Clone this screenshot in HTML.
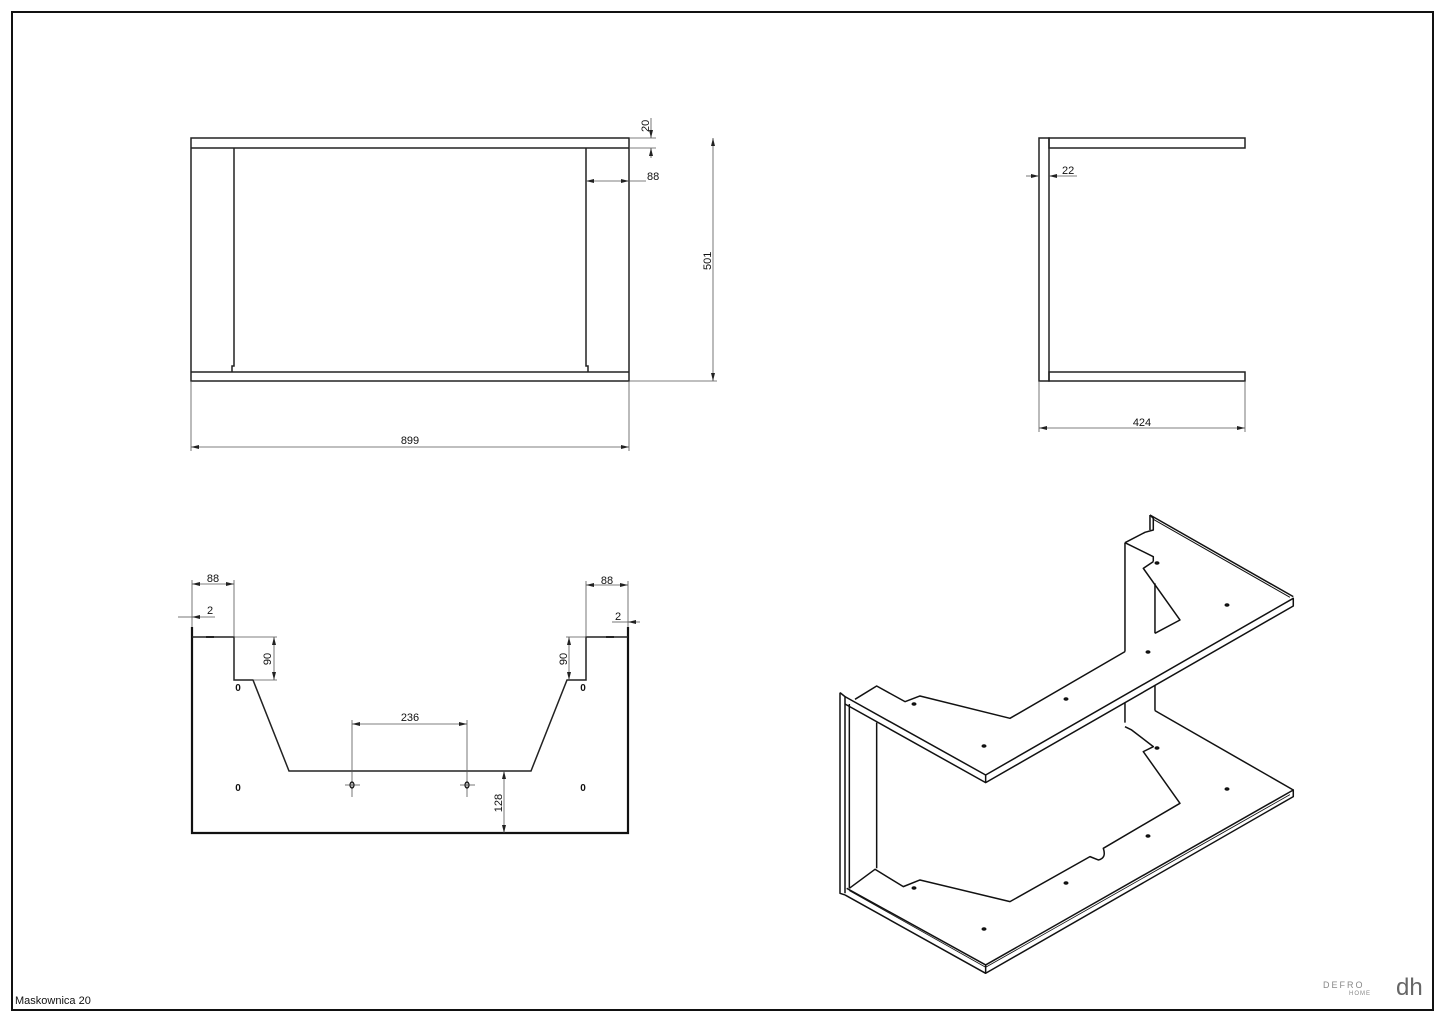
<!DOCTYPE html>
<html><head><meta charset="utf-8"><style>
html,body{margin:0;padding:0;background:#fff;}
svg{display:block;}
text{font-family:"Liberation Sans","DejaVu Sans",sans-serif;font-size:11px;fill:#111;}
</style></head><body>
<svg width="1445" height="1022" viewBox="0 0 1445 1022" xmlns="http://www.w3.org/2000/svg">
<defs>
<marker id="a" markerWidth="8" markerHeight="6" refX="8" refY="3" orient="auto-start-reverse" markerUnits="userSpaceOnUse"><path d="M0,1 L8,3 L0,5 z" fill="#222"/></marker>
</defs>
<rect x="12" y="12" width="1421" height="998" fill="none" stroke="#111" stroke-width="2"/>

<!-- Top-left view -->
<g fill="none" stroke="#222" stroke-width="1.5">
<rect x="191" y="138" width="438" height="243"/>
<line x1="191" y1="148" x2="629" y2="148"/>
<line x1="191" y1="372" x2="629" y2="372"/>
<path d="M234,148 V366 H232 V372"/>
<path d="M586,148 V366 H588 V372"/>
</g>
<g fill="none" stroke="#555" stroke-width="0.8">
<line x1="629" y1="138" x2="656" y2="138"/><line x1="629" y1="148" x2="656" y2="148"/>
<line x1="651" y1="118" x2="651" y2="138" marker-end="url(#a)"/>
<line x1="651" y1="158" x2="651" y2="148" marker-end="url(#a)"/>
<line x1="586" y1="181" x2="629" y2="181" marker-start="url(#a)" marker-end="url(#a)"/>
<line x1="629" y1="181" x2="646" y2="181"/>
<line x1="629" y1="381" x2="717" y2="381"/>
<line x1="713" y1="138" x2="713" y2="381" marker-start="url(#a)" marker-end="url(#a)"/>
<line x1="191" y1="381" x2="191" y2="451"/><line x1="629" y1="381" x2="629" y2="451"/>
<line x1="191" y1="447" x2="629" y2="447" marker-start="url(#a)" marker-end="url(#a)"/>
</g>
<text x="649" y="132" transform="rotate(-90 649 132)" text-anchor="start">20</text>
<text x="647" y="180">88</text>
<text x="711" y="270" transform="rotate(-90 711 270)">501</text>
<text x="410" y="444" text-anchor="middle">899</text>

<!-- Top-right view -->
<g fill="none" stroke="#222" stroke-width="1.5">
<rect x="1039" y="138" width="10" height="243"/>
<rect x="1049" y="138" width="196" height="10"/>
<rect x="1049" y="372" width="196" height="9"/>
</g>
<g fill="none" stroke="#555" stroke-width="0.8">
<line x1="1026" y1="176" x2="1039" y2="176" marker-end="url(#a)"/>
<line x1="1077" y1="176" x2="1049" y2="176" marker-end="url(#a)"/>
<line x1="1039" y1="381" x2="1039" y2="432"/><line x1="1245" y1="381" x2="1245" y2="432"/>
<line x1="1039" y1="428" x2="1245" y2="428" marker-start="url(#a)" marker-end="url(#a)"/>
</g>
<text x="1062" y="174">22</text>
<text x="1142" y="426" text-anchor="middle">424</text>

<!-- Bottom-left view -->
<g fill="none" stroke="#111" stroke-width="2.2">
<path d="M192,627 V833 H628 V627"/>
</g>
<g fill="none" stroke="#222" stroke-width="1.5">
<path d="M192,637 H234 V680 H253 L289,771 H531 L567,680 H586 V637 H628"/>
</g>
<g fill="#222"><rect x="206" y="636" width="8" height="2"/><rect x="606" y="636" width="8" height="2"/></g>
<g fill="none" stroke="#555" stroke-width="0.8">
<line x1="192" y1="584" x2="234" y2="584" marker-start="url(#a)" marker-end="url(#a)"/>
<line x1="192" y1="580" x2="192" y2="627"/><line x1="234" y1="580" x2="234" y2="637"/>
<line x1="178" y1="617" x2="192" y2="617"/><line x1="215" y1="617" x2="192" y2="617" marker-end="url(#a)"/>
<line x1="586" y1="585" x2="628" y2="585" marker-start="url(#a)" marker-end="url(#a)"/>
<line x1="586" y1="581" x2="586" y2="637"/><line x1="628" y1="581" x2="628" y2="627"/>
<line x1="640" y1="622" x2="628" y2="622" marker-end="url(#a)"/><line x1="612" y1="622" x2="628" y2="622"/>
<line x1="234" y1="637" x2="277" y2="637"/><line x1="254" y1="680" x2="277" y2="680"/>
<line x1="274" y1="637" x2="274" y2="680" marker-start="url(#a)" marker-end="url(#a)"/>
<line x1="566" y1="637" x2="586" y2="637"/>
<line x1="569" y1="637" x2="569" y2="680" marker-start="url(#a)" marker-end="url(#a)"/>
<line x1="352" y1="724" x2="467" y2="724" marker-start="url(#a)" marker-end="url(#a)"/>
<line x1="352" y1="720" x2="352" y2="797"/><line x1="467" y1="720" x2="467" y2="797"/>
<line x1="345" y1="785" x2="360" y2="785"/><line x1="460" y1="785" x2="475" y2="785"/>
<line x1="504" y1="771" x2="504" y2="833" marker-start="url(#a)" marker-end="url(#a)"/>
</g>
<g fill="none" stroke="#111" stroke-width="1.2">
<ellipse cx="352" cy="785" rx="2" ry="3"/><ellipse cx="467" cy="785" rx="2" ry="3"/>
</g>
<text x="213" y="582" text-anchor="middle">88</text>
<text x="210" y="614" text-anchor="middle">2</text>
<text x="607" y="584" text-anchor="middle">88</text>
<text x="618" y="620" text-anchor="middle">2</text>
<text x="271" y="659" transform="rotate(-90 271 659)" text-anchor="middle">90</text>
<text x="567" y="659" transform="rotate(-90 567 659)" text-anchor="middle">90</text>
<text x="410" y="721" text-anchor="middle">236</text>
<text x="502" y="803" transform="rotate(-90 502 803)" text-anchor="middle">128</text>
<text x="238" y="691" text-anchor="middle" style="font-size:10px;font-weight:bold">0</text>
<text x="583" y="691" text-anchor="middle" style="font-size:10px;font-weight:bold">0</text>
<text x="238" y="791" text-anchor="middle" style="font-size:10px;font-weight:bold">0</text>
<text x="583" y="791" text-anchor="middle" style="font-size:10px;font-weight:bold">0</text>

<!-- Isometric view -->
<g transform="translate(820,500) scale(0.3333)" fill="none" stroke="#111" stroke-width="4.5" stroke-linejoin="round">
<path d="M60,578 L60,1180 L75,1185"/>
<path d="M60,578 L75,590 L75,1180"/>
<line x1="88" y1="612" x2="88" y2="1165"/>
<line x1="170" y1="668" x2="170" y2="1105"/>
<line x1="915" y1="128" x2="915" y2="455"/>
<line x1="915" y1="608" x2="915" y2="668"/>
<line x1="1005" y1="250" x2="1005" y2="400"/>
<line x1="1005" y1="556" x2="1005" y2="632"/>
<path d="M990,45 L990,90"/>
<path d="M75,590 L497,825 L1420,295 L1420,318 L497,848 L75,612"/>
<line x1="497" y1="825" x2="497" y2="848"/>
<path d="M990,45 L1420,290"/>
<path d="M1000,58 L1410,292" stroke-width="3"/>
<path d="M990,45 L1000,55 L1000,90 L975,97 L915,128"/>
<path d="M105,598 L170,558 L255,605 L300,588 L570,655 L915,455"/>
<path d="M1005,400 L1080,360 L970,205 L1000,185"/>
<path d="M915,128 L1000,170 L1000,185"/>
<path d="M80,1165 L497,1395 L1420,870 L1420,890 L497,1420 L75,1185"/>
<line x1="497" y1="1395" x2="497" y2="1420"/>
<path d="M88,1172 L497,1402 L1410,884" stroke-width="2.5"/>
<path d="M1005,632 L1420,870"/>
<path d="M88,1165 L165,1108 L250,1160 L300,1140 L570,1205 L810,1070 L835,1080 Q860,1075 850,1045 L1080,910 L970,755 L1000,740 L935,690 L915,680"/>
</g>
<g fill="#111">
<ellipse cx="914" cy="704" rx="2.5" ry="1.8"/><ellipse cx="1066" cy="699" rx="2.5" ry="1.8"/>
<ellipse cx="1148" cy="652" rx="2.5" ry="1.8"/><ellipse cx="1227" cy="605" rx="2.5" ry="1.8"/>
<ellipse cx="1157" cy="563" rx="2.5" ry="1.8"/><ellipse cx="984" cy="746" rx="2.5" ry="1.8"/>
<ellipse cx="914" cy="888" rx="2.5" ry="1.8"/><ellipse cx="1066" cy="883" rx="2.5" ry="1.8"/>
<ellipse cx="1148" cy="836" rx="2.5" ry="1.8"/><ellipse cx="1227" cy="789" rx="2.5" ry="1.8"/>
<ellipse cx="1157" cy="748" rx="2.5" ry="1.8"/><ellipse cx="984" cy="929" rx="2.5" ry="1.8"/>
</g>

<text x="15" y="1004" style="font-size:11px">Maskownica 20</text>
<text x="1323" y="988" style="font-size:9px;fill:#888;letter-spacing:2px">DEFRO</text>
<text x="1349" y="995" style="font-size:6px;fill:#888;letter-spacing:1px">HOME</text>
<text x="1396" y="995" style="font-size:24px;fill:#666">dh</text>
</svg>
</body></html>
